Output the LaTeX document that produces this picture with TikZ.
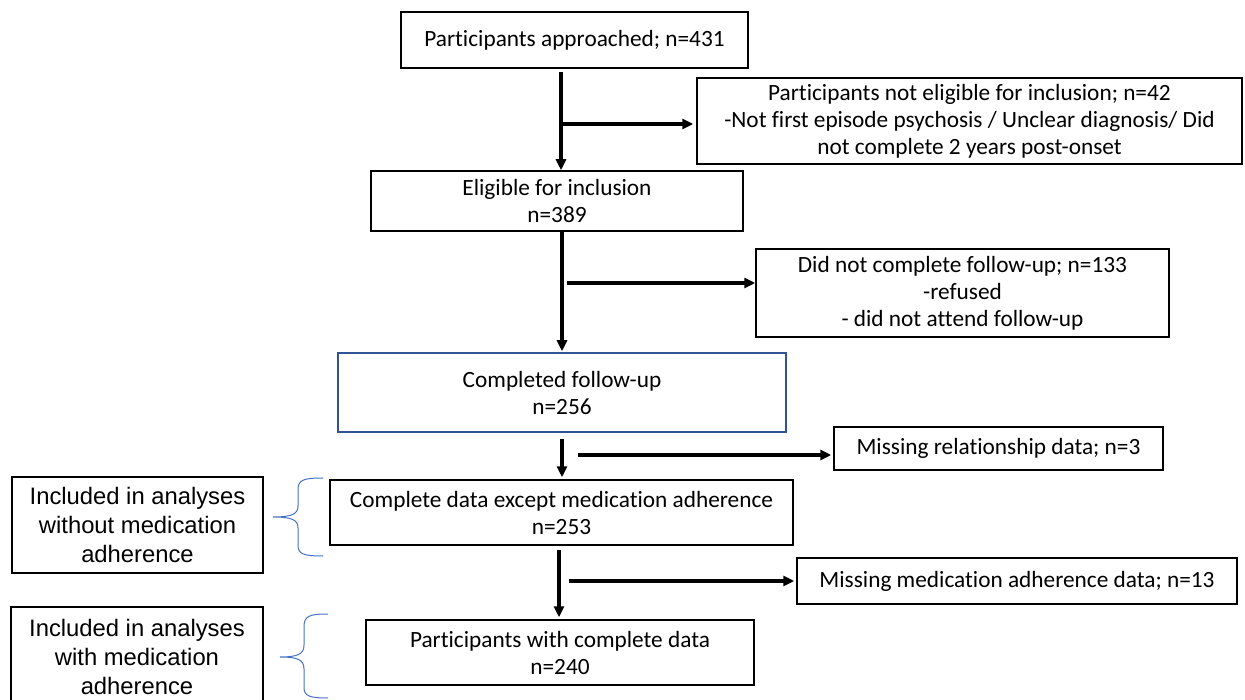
\documentclass[tikz,border=0pt]{standalone}
\usepackage{fontspec}
\setmainfont{Carlito}[Ligatures=NoCommon]
\newfontfamily\arialfont{Liberation Sans}
\usetikzlibrary{arrows.meta}
\definecolor{wordblue}{HTML}{4472C4}
\definecolor{boxblue}{HTML}{2F5597}
\tikzset{
  flowbox/.style={draw=black, line width=1.5pt, inner sep=0pt, align=center,
    font=\fontsize{23.3}{27}\selectfont},
  sidebox/.style={draw=black, line width=2pt, inner sep=0pt, align=center,
    font=\arialfont\fontsize{23.8}{29}\selectfont},
  arr/.style={line width=3.2pt, -{Triangle[length=11pt,width=10pt]}},
  bracepath/.style={draw=wordblue, line width=1pt}
}
\begin{document}
\begin{tikzpicture}[x=1pt, y=-1pt]
\useasboundingbox (0,0) rectangle (1245,700);
\fill[white] (0,0) rectangle (1245,700);
\begin{scope}
\clip (0,0) rectangle (1245,700);
% main column
\node[flowbox, minimum width=347pt, minimum height=56pt] (b1) at (574.5,40) {Participants approached; n=431};
\node[flowbox, minimum width=545pt, minimum height=86pt] (b2) at (969.5,121) {Participants not eligible for inclusion; n=42\\-Not first episode psychosis / Unclear diagnosis/ Did\\not complete 2 years post-onset};
\node[flowbox, minimum width=372pt, minimum height=60pt] (b3) at (557,201) {Eligible for inclusion\\n=389};
\node[flowbox, minimum width=413pt, minimum height=88pt] (b4) at (962.5,293) {Did not complete follow-up; n=133\\-refused\\- did not attend follow-up};
\node[flowbox, draw=boxblue, minimum width=448pt, minimum height=79pt] (b5) at (562,392.5) {Completed follow-up\\n=256};
\node[flowbox, minimum width=329pt, minimum height=43pt] (b6) at (998.5,448.5) {Missing relationship data; n=3};
\node[flowbox, minimum width=463pt, minimum height=65pt] (b7) at (561.5,512.5) {Complete data except medication adherence\\n=253};
\node[flowbox, minimum width=440pt, minimum height=46pt] (b8) at (1017,581) {Missing medication adherence data; n=13};
\node[flowbox, minimum width=388pt, minimum height=65pt] (b9) at (560,652.5) {Participants with complete data\\n=240};
% side boxes
\node[sidebox, minimum width=251pt, minimum height=96pt] (l1) at (137.5,525) {Included in analyses\\without medication\\adherence};
\node[sidebox, minimum width=252pt, minimum height=100pt] (l2) at (137,657) {Included in analyses\\with medication\\adherence};
% connector start points
\coordinate (s1) at (561,72);
\coordinate (j1) at (561,124);
\coordinate (s2) at (562,232);
\coordinate (j2) at (567,283);
\coordinate (s3) at (562,439);
\coordinate (j3) at (578,455);
\coordinate (s4) at (559,550);
\coordinate (j4) at (569,581);
\draw[arr] (s1) -- (s1 |- b3.north);
\draw[arr, shorten >=3pt] (j1) -- (j1 -| b2.west);
\draw[arr, shorten >=1pt] (s2) -- (s2 |- b5.north);
\draw[arr] (j2) -- (j2 -| b4.west);
\draw[arr, shorten >=2pt] (s3) -- (s3 |- b7.north);
\draw[arr, shorten >=2pt] (j3) -- (j3 -| b6.west);
\draw[arr, shorten >=2pt] (s4) -- (s4 |- b9.north);
\draw[arr, shorten >=2pt] (j4) -- (j4 -| b8.west);
% braces
\draw[bracepath] (323,478) .. controls (303,478) and (298,480) .. (298,490)
  -- (298,506) .. controls (298,514) and (292,517) .. (273,517)
  .. controls (292,517) and (298,520) .. (298,528)
  -- (298,545) .. controls (298,554) and (303,556) .. (323,556);
\draw[bracepath] (328,614) .. controls (309,614) and (304,616) .. (304,627)
  -- (304,645) .. controls (304,654) and (298,657) .. (280,657)
  .. controls (298,657) and (304,660) .. (304,669)
  -- (304,687) .. controls (304,696) and (309,698) .. (328,698);
\end{scope}
\end{tikzpicture}
\end{document}
